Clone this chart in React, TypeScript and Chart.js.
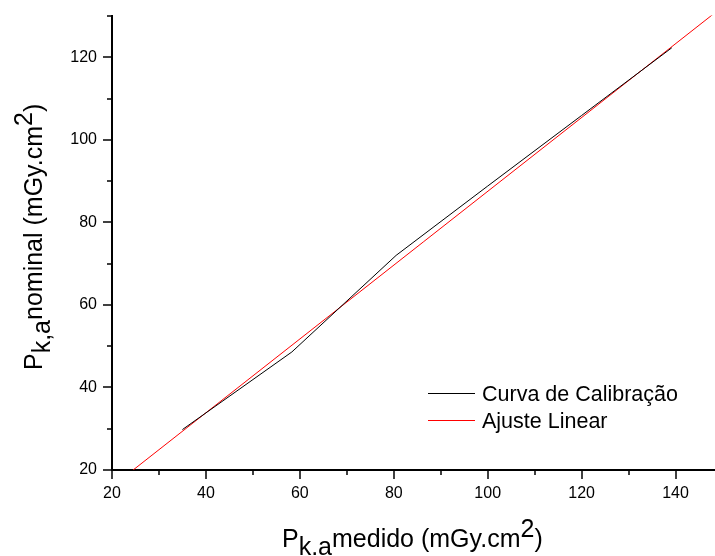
import React, { useEffect, useRef } from "react";
import { Chart, registerables } from "chart.js";

Chart.register(...registerables);

const MEASURED_X = [35.0, 58.3, 80.5, 100, 120, 139.2];
const NOMINAL_Y = [29.8, 48.6, 72.0, 88.8, 105.9, 122.3];
const FIT_X = [24.5, 148.4];
const FIT_Y = [20.0, 130.8];

const X_MAJOR = [20, 40, 60, 80, 100, 120, 140];
const X_MINOR = [30, 50, 70, 90, 110, 130];
const Y_MAJOR = [20, 40, 60, 80, 100, 120];
const Y_MINOR = [30, 50, 70, 90, 110, 130];

const SERIES_LABELS = ["Curva de Calibração", "Ajuste Linear"];
const FONT = "Arial, 'Liberation Sans', sans-serif";

const customPlugin = {
  id: "custom",
  afterDraw(chart: any) {
    const ctx = chart.ctx;
    const xs = chart.scales.x;
    const ys = chart.scales.y;
    const area = chart.chartArea;
    ctx.save();
    ctx.strokeStyle = "#000";
    ctx.lineWidth = 1.5;
    const drawX = (v: number, len: number) => {
      const p = Math.round(xs.getPixelForValue(v));
      ctx.beginPath();
      ctx.moveTo(p, area.bottom);
      ctx.lineTo(p, area.bottom + len);
      ctx.stroke();
    };
    const drawY = (v: number, len: number) => {
      const p = Math.round(ys.getPixelForValue(v));
      ctx.beginPath();
      ctx.moveTo(area.left, p);
      ctx.lineTo(area.left - len, p);
      ctx.stroke();
    };
    X_MAJOR.forEach((v) => drawX(v, 9));
    X_MINOR.forEach((v) => drawX(v, 5));
    Y_MAJOR.forEach((v) => drawY(v, 9));
    Y_MINOR.forEach((v) => drawY(v, 5));

    // legend
    const ds = chart.data.datasets;
    const legY = [393, 420];
    ds.forEach((d: any, i: number) => {
      ctx.strokeStyle = d.borderColor;
      ctx.lineWidth = 1;
      ctx.beginPath();
      ctx.moveTo(428, legY[i] + 0.5);
      ctx.lineTo(475, legY[i] + 0.5);
      ctx.stroke();
      ctx.fillStyle = "#000";
      ctx.font = `21.5px ${FONT}`;
      ctx.textBaseline = "alphabetic";
      ctx.textAlign = "left";
      ctx.fillText(d.label, 482, legY[i] + 8);
    });

    // axis titles with sub/superscripts
    const drawTitle = (x: number, y: number, rot: number, sub: string, main: string) => {
      ctx.save();
      ctx.translate(x, y);
      ctx.rotate(rot);
      ctx.fillStyle = "#000";
      ctx.textBaseline = "alphabetic";
      ctx.textAlign = "left";
      ctx.font = `25px ${FONT}`;
      const parts: [string, number][] = [
        ["P", 0],
        [sub, 8],
        [main, 0],
        ["2", -10],
        [")", 0],
      ];
      let cx = 0;
      parts.forEach(([t, dy]) => {
        ctx.fillText(t, cx, dy);
        cx += ctx.measureText(t).width;
      });
      ctx.restore();
    };
    drawTitle(282, 547, 0, "k.a", "medido (mGy.cm");
    drawTitle(42, 370, -Math.PI / 2, "k,a", "nominal (mGy.cm");
    ctx.restore();
  },
};

export default function App() {
  const ref = useRef<HTMLCanvasElement>(null);
  useEffect(() => {
    if (!ref.current) return;
    Chart.defaults.font.family = FONT;
    Chart.defaults.color = "#000";
    const chart = new Chart(ref.current, {
      type: "line",
      data: {
        datasets: [
          {
            label: SERIES_LABELS[0],
            data: MEASURED_X.map((x, i) => ({ x, y: NOMINAL_Y[i] })),
            borderColor: "#000000",
            borderWidth: 1,
            pointRadius: 0,
            tension: 0,
          },
          {
            label: SERIES_LABELS[1],
            data: FIT_X.map((x, i) => ({ x, y: FIT_Y[i] })),
            borderColor: "#ff0000",
            borderWidth: 1,
            pointRadius: 0,
            tension: 0,
          },
        ],
      },
      options: {
        animation: false,
        responsive: false,
        layout: { padding: { left: 0, right: 0, top: 15, bottom: 0 } },
        plugins: { legend: { display: false }, tooltip: { enabled: false } },
        scales: {
          x: {
            type: "linear",
            min: 20,
            max: 148.4,
            grid: { display: false, drawTicks: true, tickLength: 9 },
            border: { display: true, color: "#000", width: 2 },
            ticks: { font: { size: 16 }, color: "#000", padding: 5, maxRotation: 0 },
            afterBuildTicks: (s: any) => {
              s.ticks = X_MAJOR.map((v) => ({ value: v }));
            },
            afterFit: (s: any) => {
              s.height = 86;
            },
          },
          y: {
            type: "linear",
            min: 20,
            max: 130.1,
            grid: { display: false, drawTicks: true, tickLength: 9 },
            border: { display: true, color: "#000", width: 2 },
            ticks: { font: { size: 16 }, color: "#000", padding: 6 },
            afterBuildTicks: (s: any) => {
              s.ticks = Y_MAJOR.map((v) => ({ value: v }));
            },
            afterFit: (s: any) => {
              s.width = 112;
            },
          },
        },
      },
      plugins: [customPlugin],
    });
    return () => chart.destroy();
  }, []);
  return (
    <div style={{ position: "absolute", left: 0, top: 0, width: 715, height: 556, background: "#fff" }}>
      <canvas ref={ref} width={715} height={556} style={{ display: "block" }} />
    </div>
  );
}
